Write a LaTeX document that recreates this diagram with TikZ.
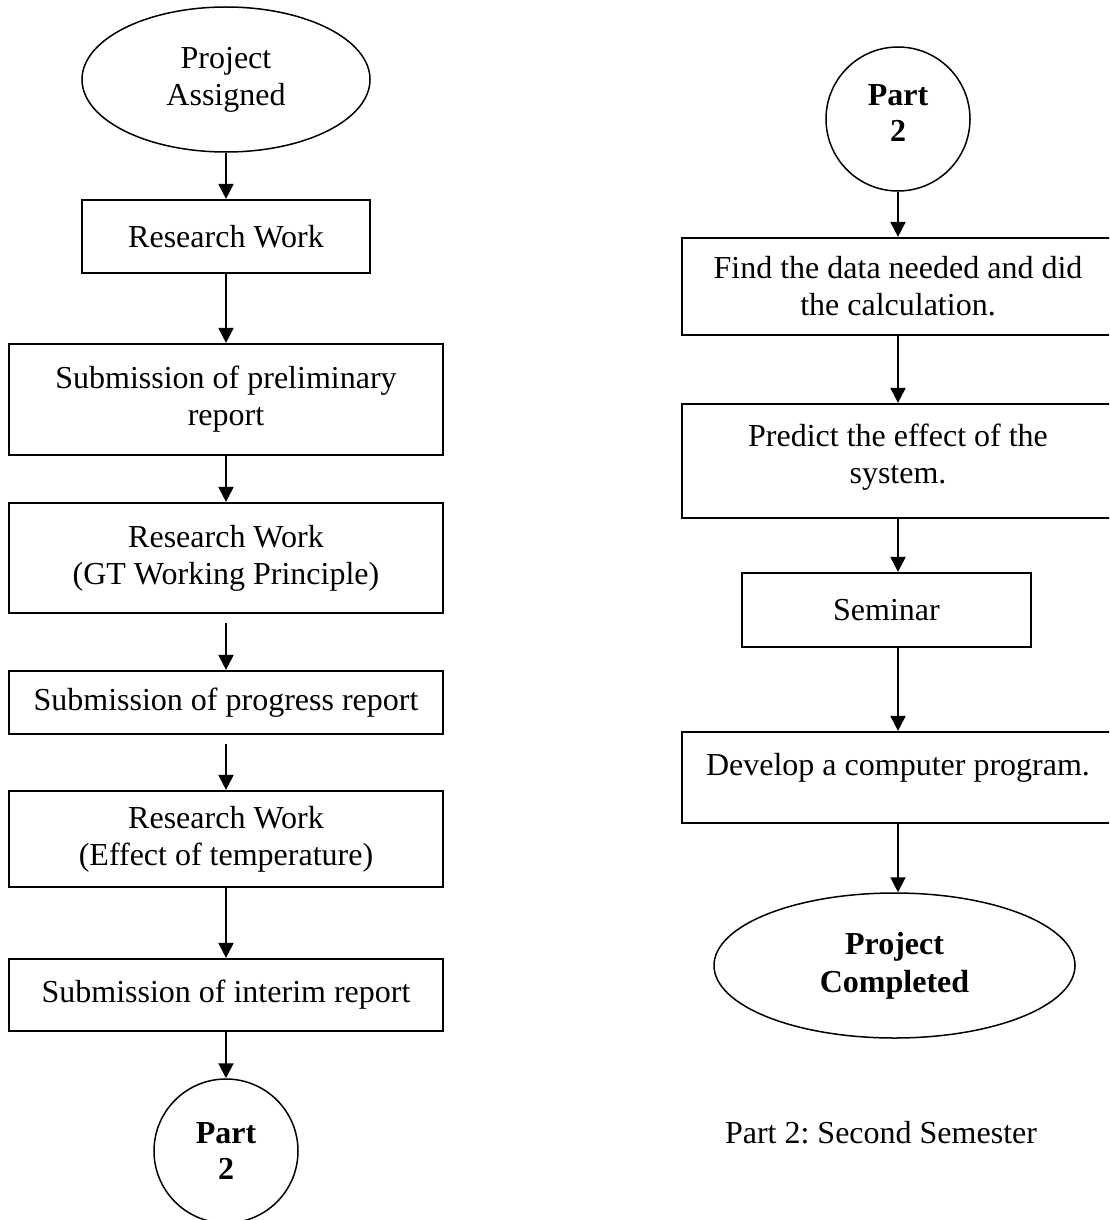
\documentclass[tikz,border=0pt]{standalone}
\usepackage{fontspec}
\setmainfont{Liberation Serif}
\frenchspacing
\usetikzlibrary{shapes,arrows.meta}

\tikzset{
  textfont/.style={font=\fontsize{32}{36.8}\selectfont},
  stepbox/.style={draw,rectangle,line width=2.2pt,align=center,inner sep=0pt,textfont},
  terminal/.style={draw,ellipse,line width=1.5pt,align=center,inner sep=0pt,textfont},
  connector/.style={draw,circle,line width=1.5pt,align=center,inner sep=0pt,
                    minimum size=144pt,textfont,font=\fontsize{32}{36.8}\selectfont\bfseries}
}

\begin{document}
\begin{tikzpicture}[x=1pt,y=-1pt,->,>={Triangle[length=15pt,width=15pt]},
                    line width=2pt]

  \clip (0,0) rectangle (1109,1220);

  % first semester
  \node[terminal,minimum width=288pt,minimum height=145pt] (start)    at (226,79.5) {Project\\Assigned};
  \node[stepbox,minimum width=288pt,minimum height=73pt]   (rwork)    at (226,236.5) {Research Work};
  \node[stepbox,minimum width=434pt,minimum height=111pt]  (prelim)   at (226,399.5) {Submission of preliminary\\report};
  \node[stepbox,minimum width=434pt,minimum height=110pt]  (rworkgt)  at (226,558) {Research Work\\(GT Working Principle)};
  \node[stepbox,minimum width=434pt,minimum height=63pt]   (progress) at (226,702.5) {Submission of progress report};
  \node[stepbox,minimum width=434pt,minimum height=96pt]   (rworktmp) at (226,839) {Research Work\\(Effect of temperature)};
  \node[stepbox,minimum width=434pt,minimum height=72pt]   (interim)  at (226,995) {Submission of interim report};
  \node[connector]                                         (partA)    at (226,1151) {Part\\2};

  % second semester
  \node[connector]                                         (partB)    at (898,119) {Part\\2\\[-25pt]~};
  \node[stepbox,minimum width=432pt,minimum height=97pt]   (calc)     at (898,286.5) {Find the data needed and did\\the calculation.};
  \node[stepbox,minimum width=432pt,minimum height=114pt]  (predict)  at (898,461) {Predict the effect of the\\system.\\[-22pt]~};
  \node[stepbox,minimum width=289pt,minimum height=74pt]   (seminar)  at (886.5,610) {Seminar};
  \node[stepbox,minimum width=432pt,minimum height=91pt]   (develop)  at (898,777.5) {Develop a computer program.\\[-10pt]~};
  \node[terminal,minimum width=361pt,minimum height=145pt,
        font=\fontsize{32}{38}\selectfont\bfseries]        (done)     at (894.5,965.5) {Project\\Completed};
  \node[textfont]                                          (caption)  at (881,1133) {Part 2: Second Semester};

  \path (start)    edge (rwork)
        (rwork)    edge (prelim)
        (prelim)   edge (rworkgt)
        (rworkgt)  edge [shorten <=9pt] (progress)
        (progress) edge [shorten <=9pt] (rworktmp)
        (rworktmp) edge (interim)
        (interim)  edge (partA);

  \path (partB)    edge (calc)
        (calc)     edge (predict)
        (predict.south) edge (predict.south |- seminar.north)
        (predict.south |- seminar.south) edge (develop)
        (develop)  edge (develop.south |- done.north);
\end{tikzpicture}
\end{document}
